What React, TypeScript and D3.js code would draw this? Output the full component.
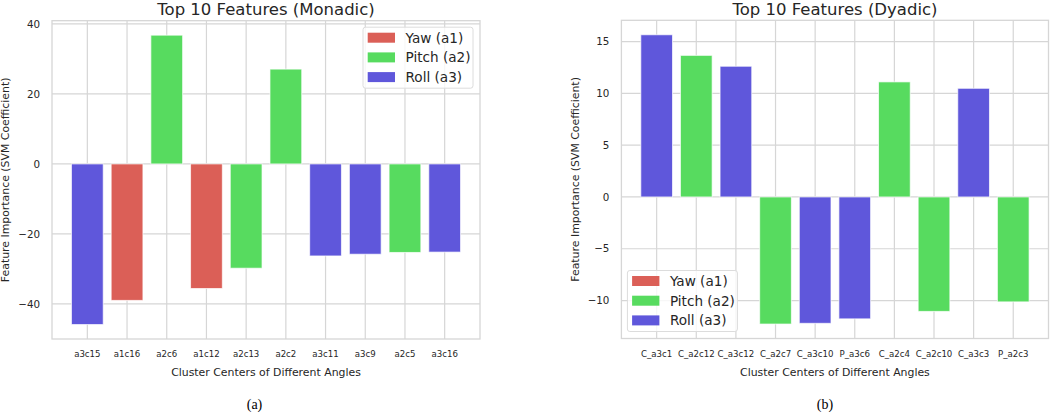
import React from "react";
import * as d3 from "d3";

const monadicLabels = ["a3c15", "a1c16", "a2c6", "a1c12", "a2c13", "a2c2", "a3c11", "a3c9", "a2c5", "a3c16"];
const monadicValues = [-45.9, -39.0, 36.8, -35.6, -29.8, 27.1, -26.3, -25.8, -25.3, -25.2];
const monadicTicks = [-40, -20, 0, 20, 40];

const dyadicLabels = ["C_a3c1", "C_a2c12", "C_a3c12", "C_a2c7", "C_a3c10", "P_a3c6", "C_a2c4", "C_a2c10", "C_a3c3", "P_a2c3"];
const dyadicValues = [15.66, 13.67, 12.62, -12.27, -12.2, -11.77, 11.11, -11.05, 10.49, -10.13];
const dyadicTicks = [-10, -5, 0, 5, 10, 15];

const legendNames = ["Yaw (a1)", "Pitch (a2)", "Roll (a3)"];
const angleColors = ["#db5f57", "#57db5f", "#5f57db"];

const FONT = "'DejaVu Sans', sans-serif";
const GRID = "#d6d6d6";
const TEXT = "#262626";

type PanelProps = {
  labels: string[];
  values: number[];
  ticks: number[];
  title: string;
  caption: string;
  box: { x0: number; x1: number; y0: number; y1: number };
  ylabelX: number;
  captionX: number;
  legendPos: "upper right" | "lower left";
};

function angleIndex(label: string): number {
  const m = label.match(/a(\d)c/);
  return m ? +m[1] - 1 : 0;
}

function Panel(p: PanelProps) {
  const { x0, x1, y0, y1 } = p.box;
  const n = p.labels.length;
  const bw = 0.8;
  const xlo = -bw / 2, xhi = n - 1 + bw / 2;
  const xm = (xhi - xlo) * 0.05;
  const x = d3.scaleLinear().domain([xlo - xm, xhi + xm]).range([x0, x1]);
  const vmin = Math.min(0, d3.min(p.values)!);
  const vmax = Math.max(0, d3.max(p.values)!);
  const ym = (vmax - vmin) * 0.05;
  const y = d3.scaleLinear().domain([vmin - ym, vmax + ym]).range([y1, y0]);
  const cx = (x0 + x1) / 2;
  const cy = (y0 + y1) / 2;

  const legW = 110, legH = 61;
  const legX = p.legendPos === "upper right" ? x1 - 7 - legW : x0 + 6;
  const legY = p.legendPos === "upper right" ? y0 + 6.5 : y1 - 7 - legH;

  return (
    <g>
      {/* grid */}
      {p.ticks.map((t) => (
        <line key={"h" + t} x1={x0} x2={x1} y1={y(t)} y2={y(t)} stroke={GRID} strokeWidth={1.2} />
      ))}
      {p.labels.map((l, i) => (
        <line key={"v" + l} x1={x(i)} x2={x(i)} y1={y0} y2={y1} stroke={GRID} strokeWidth={1.2} />
      ))}
      {/* bars */}
      {p.values.map((v, i) => (
        <rect
          key={"b" + i}
          x={x(i - bw / 2)}
          width={x(i + bw / 2) - x(i - bw / 2)}
          y={y(Math.max(0, v))}
          height={Math.abs(y(v) - y(0))}
          fill={angleColors[angleIndex(p.labels[i])]}
          stroke="#ffffff"
          strokeOpacity={0.7}
          strokeWidth={1}
        />
      ))}
      {/* spines */}
      <rect x={x0} y={y0} width={x1 - x0} height={y1 - y0} fill="none" stroke={GRID} strokeWidth={1.3} />
      {/* y tick labels */}
      {p.ticks.map((t) => (
        <text key={"yt" + t} x={x0 - 12} y={y(t)} dy="0.36em" textAnchor="end" fontSize={10.3} fill={TEXT} fontFamily={FONT}>
          {t < 0 ? "\u2212" + Math.abs(t) : String(t)}
        </text>
      ))}
      {/* x tick labels */}
      {p.labels.map((l, i) => (
        <text key={"xt" + l} x={x(i)} y={356.5} textAnchor="middle" fontSize={8.6} fill={TEXT} fontFamily={FONT}>
          {l}
        </text>
      ))}
      {/* title */}
      <text x={cx} y={15} textAnchor="middle" fontSize={16.5} fill={TEXT} fontFamily={FONT}>
        {p.title}
      </text>
      {/* axis labels */}
      <text x={cx} y={376} textAnchor="middle" fontSize={10.9} fill={TEXT} fontFamily={FONT}>
        Cluster Centers of Different Angles
      </text>
      <text
        transform={`translate(${p.ylabelX},${cy}) rotate(-90)`}
        textAnchor="middle"
        dy="0.36em"
        fontSize={10.9}
        fill={TEXT}
        fontFamily={FONT}
      >
        Feature Importance (SVM Coefficient)
      </text>
      {/* legend */}
      <g transform={`translate(${legX},${legY})`}>
        <rect x={0} y={0} width={legW} height={legH} rx={2.5} fill="#ffffff" fillOpacity={0.8} stroke="#dcdcdc" strokeWidth={1} />
        {legendNames.map((name, k) => (
          <g key={name} transform={`translate(0,${10.5 + k * 19.7})`}>
            <rect x={4.7} y={-5} width={27.3} height={10} fill={angleColors[k]} />
            <text x={42.5} y={0} dy="0.36em" fontSize={13.6} fill={TEXT} fontFamily={FONT}>
              {name}
            </text>
          </g>
        ))}
      </g>
      {/* caption */}
      <text x={p.captionX} y={408.5} textAnchor="middle" fontSize={14} fill="#000" fontFamily="'Liberation Serif', 'DejaVu Serif', serif">
        {p.caption}
      </text>
    </g>
  );
}

export default function App() {
  return (
    <svg
      width={1050}
      height={412}
      style={{ position: "absolute", left: 0, top: 0, background: "#fff" }}
    >
      <rect x={0} y={0} width={1050} height={412} fill="#fff" />
      <Panel
        labels={monadicLabels}
        values={monadicValues}
        ticks={monadicTicks}
        title="Top 10 Features (Monadic)"
        caption="(a)"
        box={{ x0: 52, x1: 480, y0: 20.7, y1: 339 }}
        ylabelX={5.5}
        captionX={254.5}
        legendPos="upper right"
      />
      <Panel
        labels={dyadicLabels}
        values={dyadicValues}
        ticks={dyadicTicks}
        title="Top 10 Features (Dyadic)"
        caption="(b)"
        box={{ x0: 621.4, x1: 1048.5, y0: 20.3, y1: 338.5 }}
        ylabelX={575}
        captionX={825}
        legendPos="lower left"
      />
    </svg>
  );
}
